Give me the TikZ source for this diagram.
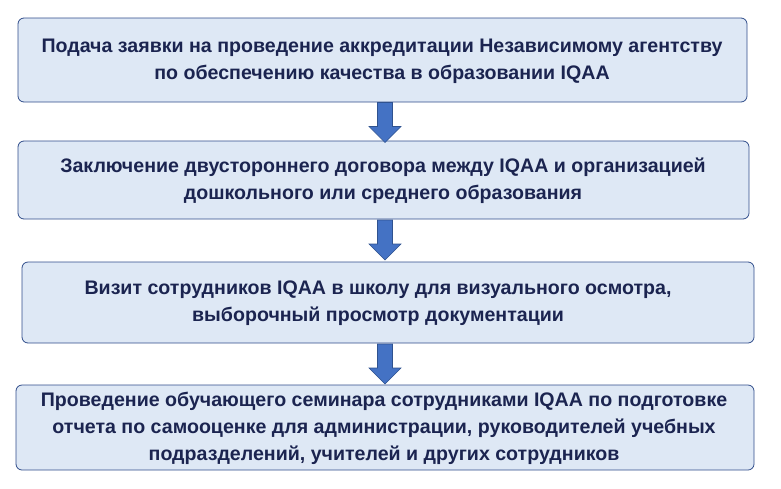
\documentclass[tikz,border=0pt]{standalone}
\usepackage{fontspec}
\setmainfont{Liberation Sans}
\definecolor{boxfill}{HTML}{DEE8F5}
\definecolor{boxline}{HTML}{2F4C8A}
\definecolor{txt}{HTML}{1B2450}
\definecolor{arr}{HTML}{4472C4}
\definecolor{arrline}{HTML}{2F528F}
\begin{document}
\begin{tikzpicture}[x=1pt,y=-1pt,
  box/.style={draw=boxline,fill=boxfill,rounded corners=6pt,line width=0.8pt},
  lbl/.style={text=txt,font=\bfseries\fontsize{19.6}{27}\selectfont,align=center},
  darr/.style={draw=arrline,fill=arr,line width=0.6pt},
  pics/downarr/.style={code={\path[darr] (-7.5,0) -- (7.5,0) -- (7.5,24) -- (16,24) -- (0,40) -- (-16,24) -- (-7.5,24) -- cycle;}}]
\useasboundingbox (0,0) rectangle (781,488);
\draw[box] (18,18) rectangle (747,102);
\node[lbl] (t1) at (382,61) {Подача заявки на проведение аккредитации Независимому агентству\\по обеспечению качества в образовании IQAA};
\draw[box] (18,141) rectangle (749,219);
\node[lbl] (t2) at (383,181) {Заключение двустороннего договора между IQAA и организацией\\дошкольного или среднего образования};
\draw[box] (22,262) rectangle (754,343);
\node[lbl] (t3) at (378,303) {Визит сотрудников IQAA в школу для визуального осмотра,\\выборочный просмотр документации};
\draw[box] (16,385) rectangle (754,470);
\node[lbl] (t4) at (384,428) {Проведение обучающего семинара сотрудниками IQAA по подготовке\\отчета по самооценке для администрации, руководителей учебных\\подразделений, учителей и других сотрудников};
\pic at (385,102.5) {downarr};
\pic at (385,220) {downarr};
\pic at (385,344) {downarr};
\end{tikzpicture}
\end{document}
